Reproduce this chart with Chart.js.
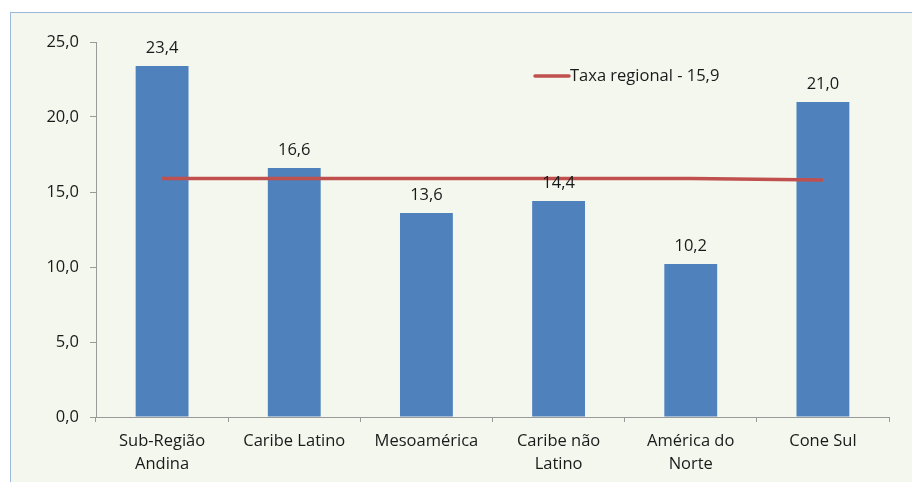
<!DOCTYPE html>
<html>
<head>
<meta charset="utf-8">
<script src="https://cdn.jsdelivr.net/npm/chart.js@4.4.1/dist/chart.umd.min.js"></script>
<style>
  html, body { margin: 0; padding: 0; background: #ffffff; }
  #frame {
    position: absolute; left: 10px; top: 12px;
    width: 910px; height: 478px;
    border: 1px solid #9bb7d9;
    background: #f4f7ee;
  }
  #chart { display: block; }
</style>
</head>
<body>
<div id="frame"><canvas id="chart" width="902" height="470"></canvas></div>
<script>
const categories = [['Sub-Região', 'Andina'], 'Caribe Latino', 'Mesoamérica', ['Caribe não', 'Latino'], ['América do', 'Norte'], 'Cone Sul'];
const rates = [23.4, 16.6, 13.6, 14.4, 10.2, 21.0];
const regionalRate = [15.9, 15.9, 15.9, 15.9, 15.9, 15.8];
const regionalLabel = 'Taxa regional - 15,9';

const fmt = v => v.toFixed(1).replace('.', ',');
const FONT = "'Open Sans', 'Noto Sans', sans-serif";
const SIZE = 16.5;

const valueLabels = {
  id: 'valueLabels',
  afterDatasetsDraw(chart) {
    const ctx = chart.ctx;
    const meta = chart.getDatasetMeta(1);
    ctx.save();
    ctx.font = SIZE + 'px ' + FONT;
    ctx.fillStyle = '#1a1a1a';
    ctx.textAlign = 'center';
    ctx.textBaseline = 'middle';
    meta.data.forEach((bar, i) => {
      ctx.fillText(fmt(rates[i]), bar.x, bar.y - 18);
    });
    // legend
    const lx = chart.chartArea.left + 439;
    const ly = chart.chartArea.top + 34;
    ctx.strokeStyle = '#c0504d';
    ctx.lineWidth = 3.5;
    ctx.lineCap = 'round';
    ctx.beginPath();
    ctx.moveTo(lx, ly);
    ctx.lineTo(lx + 34, ly);
    ctx.stroke();
    ctx.textAlign = 'left';
    ctx.fillText(regionalLabel, lx + 35, ly);
    ctx.restore();
  }
};

new Chart(document.getElementById('chart'), {
  data: {
    labels: categories,
    datasets: [
      {
        type: 'line',
        label: regionalLabel,
        data: regionalRate,
        borderColor: '#c0504d',
        borderWidth: 3.5,
        pointRadius: 0,
        tension: 0,
        order: 0
      },
      {
        type: 'bar',
        label: 'Taxa',
        data: rates,
        backgroundColor: '#4f81bd',
        categoryPercentage: 1,
        barPercentage: 0.4,
        order: 1
      }
    ]
  },
  options: {
    responsive: false,
    animation: false,
    layout: { padding: { left: 0, top: 29, right: 24, bottom: 0 } },
    plugins: {
      legend: { display: false },
      tooltip: { enabled: false }
    },
    scales: {
      x: {
        grid: { drawOnChartArea: false, offset: true, color: '#9a9a9a', tickLength: 5 },
        border: { color: '#9a9a9a' },
        ticks: { color: '#1a1a1a', font: { family: FONT, size: SIZE, lineHeight: 1.4 }, maxRotation: 0, padding: 8 },
        afterFit(scale) { scale.height = 66; }
      },
      y: {
        min: 0, max: 25,
        grid: { drawOnChartArea: false, color: '#9a9a9a', tickLength: 6 },
        border: { color: '#9a9a9a' },
        ticks: { stepSize: 5, color: '#1a1a1a', font: { family: FONT, size: SIZE }, padding: 11, callback: v => fmt(v) },
        afterFit(scale) { scale.width = 85; }
      }
    }
  },
  plugins: [valueLabels]
});
</script>
</body>
</html>
